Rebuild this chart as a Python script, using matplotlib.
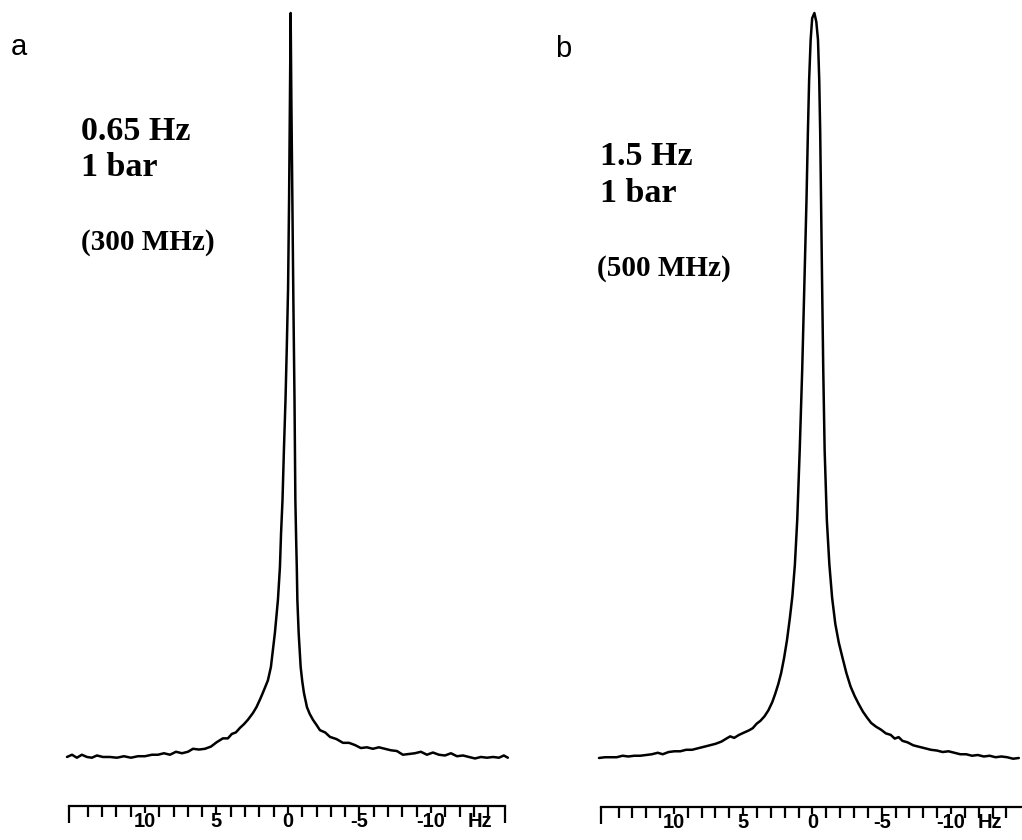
import matplotlib
matplotlib.use("Agg")
import matplotlib.pyplot as plt

# ---------------- data ----------------
# Panel a: 300 MHz, linewidth 0.65 Hz; x in Hz, y in % of peak height
freq_a = [15.45, 15.10, 14.76, 14.41, 14.06, 13.71, 13.36, 12.94, 12.45, 11.96,
          11.47, 10.98, 10.49, 10.00, 9.51, 9.09, 8.67, 8.25, 7.83, 7.41,
          6.99, 6.64, 6.22, 5.80, 5.38, 4.97, 4.55, 4.20, 3.92, 3.64,
          3.36, 3.08, 2.80, 2.45, 2.20, 1.96, 1.78, 1.61, 1.40, 1.19,
          1.05, 0.91, 0.70, 0.56, 0.48, 0.38, 0.28, 0.17, 0.08, -0.01,
          -0.08, -0.14, -0.19,
          -0.24, -0.31, -0.38, -0.46, -0.52, -0.58, -0.62, -0.66, -0.75, -0.89,
          -1.00, -1.12, -1.33, -1.52, -1.75, -2.00, -2.24, -2.60, -2.94, -3.40,
          -3.85, -4.27, -4.69, -5.10, -5.52, -5.94, -6.36, -6.78, -7.20, -7.62,
          -8.04, -8.46, -8.88, -9.30, -9.72, -10.14, -10.56, -10.98, -11.40, -11.82,
          -12.24, -12.66, -13.08, -13.50, -13.92, -14.34, -14.76, -15.10, -15.38]
signal_a = [0.0, 0.3, -0.1, 0.3, 0.0, -0.1, 0.2, 0.0, 0.0, -0.1,
            0.1, -0.1, 0.1, 0.1, 0.3, 0.3, 0.5, 0.3, 0.7, 0.5,
            0.7, 1.1, 1.0, 1.1, 1.4, 2.0, 2.5, 2.5, 3.1, 3.3,
            3.9, 4.4, 5.0, 5.9, 6.7, 7.7, 8.5, 9.3, 10.3, 12.1,
            14.4, 16.7, 21.1, 25.5, 30.1, 34.5, 41.3, 48.0, 55.0, 63.0,
            74.9, 88.3, 100.0,
            88.3, 74.9, 61.4, 48.0, 34.5, 28.8, 25.5, 21.1, 16.7, 12.1,
            10.2, 8.6, 6.7, 5.8, 5.0, 4.3, 3.6, 3.3, 2.7, 2.4,
            1.9, 1.9, 1.6, 1.2, 1.3, 1.1, 1.3, 1.1, 0.9, 0.8,
            0.3, 0.4, 0.5, 0.7, 0.3, 0.6, 0.3, 0.2, 0.5, 0.1,
            0.2, 0.0, -0.2, 0.0, -0.1, 0.0, -0.1, 0.2, -0.1]

# Panel b: 500 MHz, linewidth 1.5 Hz
freq_b = [15.41, 14.98, 14.56, 14.13, 13.71, 13.29, 12.86, 12.44, 12.01, 11.59,
          11.17, 10.81, 10.39, 9.96, 9.54, 9.12, 8.69, 8.27, 7.84, 7.42,
          7.00, 6.57, 6.22, 5.94, 5.65, 5.30, 4.95, 4.59, 4.31, 4.03,
          3.75, 3.46, 3.18, 2.90, 2.69, 2.47, 2.26, 2.05, 1.84, 1.63,
          1.45, 1.27, 1.10, 0.92, 0.74, 0.57, 0.43, 0.33, 0.24, 0.13,
          0.02, -0.14,
          -0.28, -0.40, -0.49, -0.56, -0.62, -0.69, -0.78, -0.88, -1.04, -1.22,
          -1.42, -1.65, -1.90, -2.15, -2.45, -2.75, -3.05, -3.35, -3.65, -3.95,
          -4.24, -4.59, -4.95, -5.30, -5.65, -5.94, -6.22, -6.50, -6.86, -7.28,
          -7.70, -8.13, -8.55, -8.98, -9.40, -9.82, -10.25, -10.67, -11.10, -11.52,
          -11.94, -12.37, -12.79, -13.22, -13.64, -14.06, -14.49, -14.90]
signal_b = [0.0, 0.1, 0.1, 0.1, 0.3, 0.2, 0.3, 0.3, 0.4, 0.5,
            0.7, 0.5, 0.8, 0.9, 0.9, 1.1, 1.1, 1.3, 1.5, 1.7,
            1.9, 2.2, 2.6, 2.9, 2.7, 3.1, 3.4, 3.7, 4.0, 4.6,
            5.0, 5.6, 6.4, 7.5, 8.6, 9.9, 11.4, 13.4, 15.8, 18.8,
            21.7, 25.9, 31.9, 41.3, 52.1, 64.6, 74.9, 83.9, 91.0, 96.4,
            99.3, 100.0,
            98.8, 96.4, 91.0, 83.9, 74.9, 64.6, 52.1, 41.3, 31.9, 26.0,
            21.5, 18.0, 15.5, 13.6, 11.4, 9.6, 8.3, 7.2, 6.2, 5.4,
            4.7, 4.2, 3.8, 3.3, 3.1, 2.6, 2.8, 2.3, 2.1, 1.7,
            1.5, 1.3, 1.1, 1.0, 0.8, 0.9, 0.7, 0.5, 0.5, 0.3,
            0.4, 0.2, 0.3, 0.1, 0.2, 0.1, -0.1, 0.0]

tick_values = [10, 5, 0, -5, -10]
tick_labels = ["10", "5", "0", "-5", "-10"]
minor_values = [v for v in range(-14, 15) if v not in tick_values]
unit_label = "Hz"

panel_letters = ["a", "b"]
notes_a = ["0.65 Hz", "1 bar", "(300 MHz)"]
notes_b = ["1.5 Hz", "1 bar", "(500 MHz)"]

# ---------------- figure ----------------
W, H = 1022, 840
fig = plt.figure(figsize=(W / 100, H / 100), dpi=100)
fig.patch.set_facecolor("white")


def fx(px):
    return px / W


def fy(py):
    return 1 - py / H


def make_panel(rect, xlim, ylim, freq, sig, ruler_ends, unit_pos):
    ax = fig.add_axes(rect)
    ax.plot(freq, sig, color="black", lw=1.8, clip_on=False,
            solid_joinstyle="round", solid_capstyle="round")
    ax.set_xlim(*xlim)
    ax.set_ylim(*ylim)
    ax.set_facecolor("none")
    for s in ["top", "left", "right"]:
        ax.spines[s].set_visible(False)
    ax.spines["bottom"].set_linewidth(1.6)
    ax.spines["bottom"].set_bounds(ruler_ends[1], ruler_ends[0])
    ax.set_yticks([])
    majors = [ruler_ends[0]] + tick_values + [unit_pos, ruler_ends[1]]
    labels = [""] + tick_labels + [unit_label, ""]
    ax.set_xticks(majors, labels)
    ax.set_xticks(minor_values, minor=True)
    ax.tick_params(axis="x", which="major", length=5, width=1.6,
                   direction="out", pad=-1, labelsize=14.5)
    ax.tick_params(axis="x", which="minor", length=8, width=1.6,
                   direction="out")
    for lab in ax.get_xticklabels():
        lab.set_fontfamily("Liberation Sans")
        lab.set_fontweight("bold")
    ticks = ax.xaxis.get_major_ticks()
    ticks[0].tick1line.set_markersize(12)
    ticks[-1].tick1line.set_markersize(12)
    ticks[-2].tick1line.set_visible(False)
    return ax


# panel a : axes spans px 67..509 horizontally, 13..806 vertically
ax_a = make_panel([fx(67), fy(806), 442 / W, 793 / H],
                  (15.45, -15.46), (-6.59, 100), freq_a, signal_a,
                  (15.33, -15.2), -13.4)
# panel b : axes spans px 599..1041 horizontally, 13..807 vertically
ax_b = make_panel([fx(599), fy(807), 442 / W, 794 / H],
                  (15.41, -15.83), (-6.58, 100), freq_b, signal_b,
                  (15.27, -16.5), -12.8)

# panel letters
fig.text(fx(11), fy(55), panel_letters[0], fontsize=21,
         family="Liberation Sans", ha="left", va="baseline")
fig.text(fx(555), fy(57), panel_letters[1], fontsize=21,
         family="Liberation Sans", ha="left", va="baseline")

serif = dict(family="Liberation Serif", fontweight="bold", ha="left",
             va="baseline")
fig.text(fx(81), fy(140), notes_a[0], fontsize=24.5, **serif)
fig.text(fx(81), fy(176), notes_a[1], fontsize=24.5, **serif)
fig.text(fx(81), fy(250), notes_a[2], fontsize=21, **serif)

fig.text(fx(600), fy(165), notes_b[0], fontsize=24.5, **serif)
fig.text(fx(600), fy(202), notes_b[1], fontsize=24.5, **serif)
fig.text(fx(597), fy(276), notes_b[2], fontsize=21, **serif)

fig.savefig("out.png", dpi=100, facecolor="white")
